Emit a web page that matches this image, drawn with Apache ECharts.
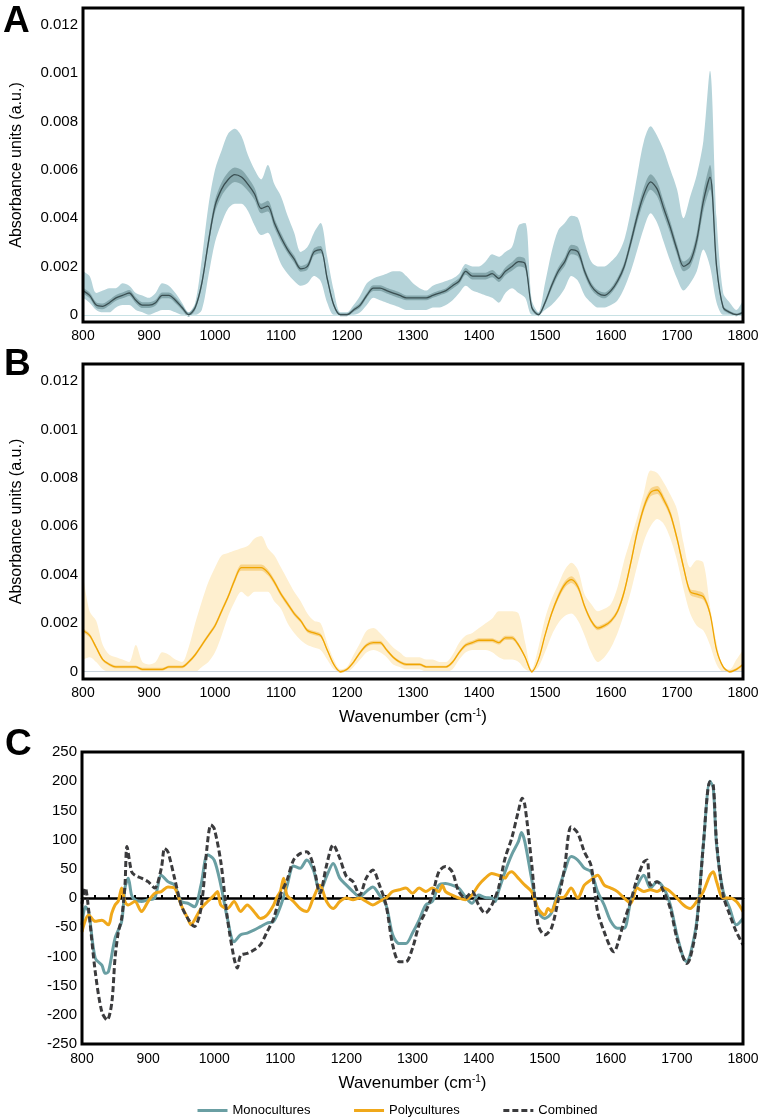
<!DOCTYPE html>
<html>
<head>
<meta charset="utf-8">
<script src="https://cdn.jsdelivr.net/npm/echarts@6.0.0/dist/echarts.min.js"></script>
<style>
html, body { margin: 0; padding: 0; background: #fff; }
#chart { width: 762px; height: 1118px; }
</style>
</head>
<body>
<div id="chart"></div>
<script>
// wavenumber grid for panels A and B (800..1800, step 10)
const wnAB = [];
for (let w = 800; w <= 1800; w += 10) wnAB.push(String(w));

// y tick labels of A/B (the 0.010 tick is printed as 0.001 in the original)
const yTickValsAB = [0, 0.002, 0.004, 0.006, 0.008, 0.010, 0.012];
const yTickLabelsAB = ['0', '0.002', '0.004', '0.006', '0.008', '0.001', '0.012'];

// Panel A - monocultures
const meanA = [
  0.0010, 0.0008, 0.0004, 0.00035, 0.0005, 0.0007, 0.0008, 0.0009, 0.0006, 0.0004,
  0.0004, 0.0005, 0.0008, 0.0008, 0.0006, 0.0003, 0.0000, 0.0003, 0.0013, 0.0030,
  0.0045, 0.0052, 0.0056, 0.0058, 0.0057, 0.0054, 0.0050, 0.0044, 0.0045, 0.0038,
  0.0032, 0.0027, 0.0023, 0.0019, 0.0020, 0.0026, 0.0027, 0.0015, 0.0004, 0.0000,
  0.0000, 0.0002, 0.0004, 0.0008, 0.0011, 0.0011, 0.0010, 0.0009, 0.0008, 0.0007,
  0.0007, 0.0007, 0.0007, 0.0008, 0.0009, 0.0010, 0.0012, 0.0014, 0.0018, 0.0016,
  0.0016, 0.0016, 0.0017, 0.0015, 0.0018, 0.0020, 0.0022, 0.0021, 0.0003, 0.0000,
  0.0005, 0.0012, 0.0018, 0.0022, 0.0027, 0.0026, 0.0018, 0.0012, 0.0009, 0.0008,
  0.0010, 0.0014, 0.0020, 0.0030, 0.0041, 0.0050, 0.0055, 0.0052, 0.0044, 0.0036,
  0.0027, 0.0020, 0.0022, 0.0031, 0.0047, 0.0057, 0.0020, 0.0003, 0.0001, 0.0000,
  0.0001
];
const hiA = [
  0.0018, 0.0016, 0.0009, 0.0010, 0.0011, 0.0011, 0.0013, 0.0012, 0.0009, 0.0008,
  0.0007, 0.0009, 0.0013, 0.0012, 0.0009, 0.0005, 0.0001, 0.0005, 0.0023, 0.0045,
  0.0060, 0.0068, 0.0075, 0.0077, 0.0074, 0.0066, 0.0060, 0.0056, 0.0062, 0.0054,
  0.0049, 0.0041, 0.0034, 0.0026, 0.0028, 0.0034, 0.0038, 0.0024, 0.0010, 0.0001,
  0.0001, 0.0004, 0.0008, 0.0013, 0.0015, 0.0016, 0.0017, 0.0018, 0.0018, 0.0016,
  0.0013, 0.0011, 0.0010, 0.0012, 0.0013, 0.0014, 0.0015, 0.0017, 0.0021, 0.0020,
  0.0020, 0.0022, 0.0025, 0.0024, 0.0026, 0.0028, 0.0037, 0.0038, 0.0006, 0.0001,
  0.0013, 0.0026, 0.0035, 0.0038, 0.0041, 0.0040, 0.0030, 0.0022, 0.0020, 0.0020,
  0.0022, 0.0025, 0.0031, 0.0043, 0.0058, 0.0072, 0.0078, 0.0074, 0.0068, 0.0060,
  0.0052, 0.0040, 0.0049, 0.0058, 0.0072, 0.0101, 0.0040, 0.0009, 0.0005, 0.0002,
  0.0006
];
const loA = [
  0.0007, 0.0005, 0.0002, 0.0001, 0.0001, 0.0003, 0.0004, 0.0004, 0.0002, 0.0001,
  0.0000, 0.0001, 0.0002, 0.0002, 0.0001, 0.0000, 0.0000, 0.0000, 0.0002, 0.0016,
  0.0030, 0.0038, 0.0044, 0.0046, 0.0046, 0.0043, 0.0037, 0.0033, 0.0034, 0.0028,
  0.0021, 0.0017, 0.0014, 0.0012, 0.0013, 0.0016, 0.0014, 0.0005, 0.0000, 0.0000,
  0.0000, 0.0000, 0.0001, 0.0004, 0.0007, 0.0006, 0.0005, 0.0004, 0.0003, 0.0002,
  0.0002, 0.0002, 0.0002, 0.0003, 0.0003, 0.0004, 0.0006, 0.0009, 0.0012, 0.0010,
  0.0009, 0.0008, 0.0007, 0.0005, 0.0009, 0.0011, 0.0009, 0.0007, 0.0000, 0.0000,
  0.0002, 0.0004, 0.0007, 0.0011, 0.0016, 0.0014, 0.0008, 0.0005, 0.0003, 0.0003,
  0.0004, 0.0006, 0.0011, 0.0018, 0.0027, 0.0036, 0.0042, 0.0038, 0.0030, 0.0022,
  0.0015, 0.0010, 0.0013, 0.0018, 0.0027, 0.0020, 0.0005, 0.0000, 0.0000, 0.0000,
  0.0000
];
const semA = [
  0.00012, 0.00012, 0.00012, 0.00012, 0.00012, 0.00012, 0.00012, 0.00012, 0.00012, 0.00012,
  0.00012, 0.00012, 0.00012, 0.00012, 0.00012, 0.00010, 0.00008, 0.00010, 0.00015, 0.00020,
  0.00025, 0.00028, 0.00030, 0.00030, 0.00030, 0.00028, 0.00025, 0.00020, 0.00022, 0.00020,
  0.00018, 0.00015, 0.00015, 0.00012, 0.00014, 0.00015, 0.00015, 0.00012, 0.00008, 0.00006,
  0.00006, 0.00008, 0.00010, 0.00010, 0.00012, 0.00012, 0.00012, 0.00012, 0.00012, 0.00010,
  0.00010, 0.00010, 0.00010, 0.00010, 0.00010, 0.00010, 0.00012, 0.00012, 0.00014, 0.00014,
  0.00014, 0.00014, 0.00015, 0.00014, 0.00016, 0.00018, 0.00020, 0.00020, 0.00008, 0.00006,
  0.00010, 0.00014, 0.00016, 0.00018, 0.00020, 0.00020, 0.00016, 0.00014, 0.00012, 0.00012,
  0.00012, 0.00014, 0.00016, 0.00020, 0.00025, 0.00030, 0.00032, 0.00030, 0.00028, 0.00025,
  0.00022, 0.00020, 0.00022, 0.00030, 0.00040, 0.00050, 0.00020, 0.00008, 0.00006, 0.00006,
  0.00006
];

// Panel B - polycultures
const meanB = [
  0.0017, 0.0015, 0.0010, 0.0005, 0.0003, 0.0002, 0.0002, 0.0002, 0.0002, 0.0001,
  0.0001, 0.0001, 0.0001, 0.0002, 0.0002, 0.0002, 0.0004, 0.0007, 0.0011, 0.0015,
  0.0019, 0.0025, 0.0031, 0.0038, 0.0043, 0.0043, 0.0043, 0.0043, 0.0041, 0.0037,
  0.0032, 0.0028, 0.0024, 0.0021, 0.0017, 0.0016, 0.0015, 0.0009, 0.0003, 0.0000,
  0.0001, 0.0004, 0.0008, 0.0011, 0.0012, 0.0012, 0.0009, 0.0006, 0.0004, 0.0003,
  0.0003, 0.0003, 0.0002, 0.0002, 0.0002, 0.0002, 0.0004, 0.0008, 0.0011, 0.0012,
  0.0013, 0.0013, 0.0013, 0.0012, 0.0014, 0.0014, 0.0011, 0.0006, 0.0000, 0.0005,
  0.0015, 0.0024, 0.0031, 0.0036, 0.0038, 0.0035, 0.0027, 0.0021, 0.0018, 0.0019,
  0.0021, 0.0025, 0.0033, 0.0045, 0.0058, 0.0068, 0.0074, 0.0075, 0.0071, 0.0065,
  0.0055, 0.0043, 0.0033, 0.0032, 0.0031, 0.0024, 0.0009, 0.0002, 0.0000, 0.0001,
  0.0003
];
const hiB = [
  0.0040, 0.0025, 0.0021, 0.0011, 0.0007, 0.0006, 0.0005, 0.0004, 0.0011, 0.0004,
  0.0003, 0.0004, 0.0008, 0.0007, 0.0005, 0.0004, 0.0010, 0.0020, 0.0029, 0.0037,
  0.0043, 0.0048, 0.0049, 0.0050, 0.0051, 0.0052, 0.0055, 0.0056, 0.0051, 0.0048,
  0.0043, 0.0038, 0.0033, 0.0029, 0.0024, 0.0021, 0.0020, 0.0012, 0.0005, 0.0001,
  0.0002, 0.0007, 0.0012, 0.0017, 0.0018, 0.0016, 0.0013, 0.0010, 0.0008, 0.0006,
  0.0006, 0.0006, 0.0005, 0.0005, 0.0004, 0.0004, 0.0007, 0.0012, 0.0015, 0.0016,
  0.0018, 0.0020, 0.0022, 0.0025, 0.0025, 0.0025, 0.0024, 0.0012, 0.0001, 0.0010,
  0.0022, 0.0030, 0.0036, 0.0042, 0.0045, 0.0042, 0.0032, 0.0028, 0.0025, 0.0026,
  0.0028, 0.0035, 0.0046, 0.0055, 0.0064, 0.0074, 0.0083, 0.0082, 0.0078, 0.0073,
  0.0067, 0.0053, 0.0043, 0.0046, 0.0045, 0.0027, 0.0012, 0.0002, 0.0001, 0.0005,
  0.0009
];
const loB = [
  0.0005, 0.0006, 0.0004, 0.0001, 0.0000, 0.0000, 0.0000, 0.0000, 0.0000, 0.0000,
  0.0000, 0.0000, 0.0000, 0.0000, 0.0000, 0.0000, 0.0000, 0.0000, 0.0002, 0.0004,
  0.0008, 0.0015, 0.0023, 0.0029, 0.0033, 0.0031, 0.0033, 0.0033, 0.0033, 0.0029,
  0.0026, 0.0020, 0.0016, 0.0013, 0.0011, 0.0010, 0.0009, 0.0005, 0.0001, 0.0000,
  0.0000, 0.0002, 0.0005, 0.0008, 0.0009, 0.0008, 0.0006, 0.0003, 0.0002, 0.0001,
  0.0001, 0.0001, 0.0000, 0.0000, 0.0000, 0.0000, 0.0001, 0.0005, 0.0008, 0.0009,
  0.0009, 0.0009, 0.0008, 0.0006, 0.0005, 0.0005, 0.0004, 0.0001, 0.0000, 0.0002,
  0.0008, 0.0015, 0.0020, 0.0023, 0.0024, 0.0021, 0.0015, 0.0008, 0.0004, 0.0006,
  0.0010, 0.0016, 0.0024, 0.0033, 0.0044, 0.0054, 0.0060, 0.0063, 0.0061, 0.0055,
  0.0046, 0.0034, 0.0024, 0.0019, 0.0017, 0.0011, 0.0003, 0.0000, 0.0000, 0.0000,
  0.0000
];
const semB = [
  0.00008, 0.00008, 0.00008, 0.00006, 0.00006, 0.00006, 0.00006, 0.00006, 0.00006, 0.00006,
  0.00006, 0.00006, 0.00006, 0.00006, 0.00006, 0.00006, 0.00006, 0.00007, 0.00008, 0.00008,
  0.00009, 0.00010, 0.00010, 0.00012, 0.00013, 0.00013, 0.00013, 0.00013, 0.00012, 0.00011,
  0.00010, 0.00010, 0.00009, 0.00008, 0.00008, 0.00008, 0.00008, 0.00006, 0.00005, 0.00005,
  0.00005, 0.00006, 0.00007, 0.00008, 0.00008, 0.00008, 0.00007, 0.00006, 0.00006, 0.00006,
  0.00006, 0.00006, 0.00005, 0.00005, 0.00005, 0.00005, 0.00006, 0.00007, 0.00008, 0.00008,
  0.00008, 0.00008, 0.00008, 0.00008, 0.00009, 0.00009, 0.00008, 0.00006, 0.00005, 0.00006,
  0.00008, 0.00010, 0.00012, 0.00013, 0.00014, 0.00013, 0.00010, 0.00009, 0.00009, 0.00009,
  0.00009, 0.00010, 0.00012, 0.00014, 0.00015, 0.00016, 0.00016, 0.00016, 0.00015, 0.00014,
  0.00013, 0.00012, 0.00012, 0.00014, 0.00014, 0.00010, 0.00006, 0.00005, 0.00005, 0.00005,
  0.00005
];

// Panel C - [wavenumber, value]
const monoPts = [
  [800,-46],[805,-15],[810,-23],[820,-103],[830,-115],[835,-129],[840,-126],[850,-69],[860,-40],
  [865,17],[870,34],[875,5],[880,-3],[890,-6],[900,-3],[910,0],[920,39],[930,28],[940,22],
  [950,-6],[960,-9],[970,-15],[980,22],[990,74],[1000,65],[1010,22],[1020,-35],[1030,-75],
  [1040,-63],[1050,-60],[1060,-55],[1070,-49],[1080,-43],[1090,-40],[1100,-15],[1110,20],
  [1120,55],[1130,51],[1140,65],[1150,48],[1160,11],[1170,37],[1180,59],[1190,34],[1200,22],
  [1210,11],[1220,2],[1230,11],[1240,19],[1250,5],[1260,-12],[1270,-63],[1280,-78],[1290,-78],
  [1300,-60],[1310,-38],[1320,-12],[1330,-6],[1340,22],[1350,25],[1360,22],[1370,17],[1380,2],
  [1390,-9],[1400,5],[1410,1],[1420,0],[1425,-6],[1430,11],[1440,45],[1450,74],[1460,96],
  [1465,112],[1470,96],[1480,34],[1490,-23],[1500,-35],[1510,-26],[1520,11],[1530,45],[1540,71],
  [1550,65],[1560,51],[1570,45],[1580,11],[1590,-12],[1600,-40],[1610,-52],[1620,-52],[1630,-6],
  [1640,22],[1650,39],[1660,17],[1670,28],[1680,17],[1690,-12],[1700,-63],[1710,-103],[1715,-109],
  [1720,-98],[1730,-40],[1740,91],[1750,200],[1755,188],[1760,91],[1770,11],[1780,-18],[1790,-46],
  [1800,-35]
];
const polyPts = [
  [800,-58],[810,-29],[820,-40],[830,-38],[840,-46],[845,-26],[850,-12],[855,-5],[860,17],[865,-6],
  [870,-12],[880,-6],[890,-23],[900,-6],[910,8],[920,11],[930,19],[940,17],[950,-12],[960,-35],
  [965,-46],[970,-38],[980,-18],[990,-6],[1000,5],[1005,11],[1010,-12],[1020,-18],[1030,-6],
  [1040,-23],[1050,-12],[1060,-23],[1070,-35],[1080,-29],[1090,-12],[1095,2],[1100,11],[1105,34],
  [1110,5],[1120,-6],[1130,-18],[1140,-23],[1150,0],[1160,22],[1170,-6],[1180,-18],[1190,-6],
  [1200,0],[1210,-3],[1220,0],[1230,-6],[1240,-12],[1250,-6],[1260,0],[1270,11],[1280,14],
  [1290,17],[1300,8],[1310,17],[1320,11],[1330,17],[1340,11],[1345,22],[1350,11],[1360,5],
  [1370,0],[1380,-3],[1390,5],[1400,22],[1410,34],[1420,42],[1430,39],[1440,34],[1445,42],
  [1450,45],[1460,34],[1470,22],[1480,11],[1490,-18],[1500,-29],[1505,-18],[1510,-23],[1520,0],
  [1530,2],[1540,17],[1550,0],[1560,22],[1570,31],[1580,39],[1590,22],[1600,17],[1610,11],
  [1620,0],[1630,-9],[1640,17],[1650,11],[1660,14],[1670,11],[1680,17],[1690,11],[1700,0],
  [1710,-12],[1720,-18],[1730,-6],[1740,11],[1750,39],[1755,45],[1760,28],[1770,0],[1780,0],
  [1790,-6],[1800,-23]
];
const combPts = [
  [800,-10],[805,17],[810,-20],[820,-126],[830,-195],[838,-209],[845,-180],[850,-103],[855,-58],
  [860,-35],[865,22],[868,88],[875,45],[880,39],[890,34],[900,28],[910,17],[920,51],[925,85],
  [930,79],[940,34],[950,-12],[960,-35],[970,-49],[980,-18],[990,96],[995,125],[1000,119],
  [1010,62],[1020,-35],[1030,-103],[1035,-120],[1040,-98],[1050,-95],[1060,-89],[1070,-80],
  [1080,-58],[1090,-35],[1100,5],[1110,30],[1120,65],[1130,76],[1140,79],[1150,56],[1160,8],
  [1170,56],[1180,91],[1190,68],[1200,37],[1210,28],[1220,5],[1230,34],[1240,48],[1250,22],
  [1260,-12],[1270,-80],[1280,-109],[1290,-109],[1300,-86],[1310,-46],[1320,-23],[1330,5],
  [1340,45],[1350,54],[1360,45],[1370,11],[1380,0],[1390,11],[1400,-12],[1410,-26],[1420,-12],
  [1430,17],[1440,68],[1450,102],[1460,148],[1466,171],[1470,159],[1480,62],[1490,-46],[1500,-63],
  [1510,-52],[1520,-6],[1530,51],[1540,122],[1550,111],[1560,79],[1570,56],[1580,-23],[1590,-58],
  [1600,-86],[1605,-92],[1610,-80],[1620,-40],[1630,-6],[1640,34],[1650,62],[1655,65],[1660,22],
  [1670,28],[1680,11],[1690,-18],[1700,-69],[1710,-103],[1715,-112],[1720,-103],[1730,-46],
  [1740,91],[1750,199],[1755,193],[1760,96],[1770,5],[1780,-29],[1790,-58],[1800,-80]
];

const FONT = '"Liberation Sans", Arial, Helvetica, sans-serif';
const wnName = '{a|Wavenumber (cm}{s|-1}{a|)}';
const wnRich = {
    a: { fontSize: 17, fontFamily: FONT, color: '#000' },
    s: { fontSize: 10, fontFamily: FONT, color: '#000', padding: [0, 0, 9, 0] }
};

function yLabelAB(v) {
    let best = 0;
    yTickValsAB.forEach((t, i) => { if (Math.abs(t - v) < Math.abs(yTickValsAB[best] - v)) best = i; });
    return yTickLabelsAB[best];
}

function catXAxis(gridIndex, withName) {
    const ax = {
        type: 'category', gridIndex, data: wnAB, boundaryGap: false,
        axisLine: { show: false }, axisTick: { show: false }, splitLine: { show: false },
        axisLabel: { interval: 9, fontSize: 14, color: '#000', margin: 7, fontFamily: FONT }
    };
    if (withName) {
        ax.name = wnName;
        ax.nameLocation = 'middle';
        ax.nameGap = 29;
        ax.nameTextStyle = { rich: wnRich };
    }
    return ax;
}

function absYAxis(gridIndex) {
    return {
        type: 'value', gridIndex, min: -0.0003, max: 0.0127,
        axisLine: { show: false }, axisTick: { show: false }, splitLine: { show: false },
        axisLabel: { customValues: yTickValsAB, formatter: yLabelAB, fontSize: 15, color: '#000', margin: 5, fontFamily: FONT },
        name: 'Absorbance units (a.u.)', nameLocation: 'middle', nameGap: 58,
        nameTextStyle: { fontSize: 16, color: '#000', fontFamily: FONT }
    };
}

// band = invisible lower edge + stacked difference filled
function band(idx, lower, upper, color, stackName) {
    const common = { type: 'line', xAxisIndex: idx, yAxisIndex: idx, symbol: 'none', smooth: 0.3, silent: true,
        stack: stackName, stackStrategy: 'all', lineStyle: { width: 0, opacity: 0 } };
    return [
        Object.assign({}, common, { data: lower }),
        Object.assign({}, common, { data: upper.map((v, i) => v - lower[i]), areaStyle: { color, opacity: 1 } })
    ];
}

function meanLine(idx, data, color, zeroColor) {
    return {
        type: 'line', xAxisIndex: idx, yAxisIndex: idx, data, symbol: 'none', smooth: 0.3, silent: true,
        lineStyle: { color, width: 1.3 }, z: 5,
        markLine: { silent: true, symbol: 'none', label: { show: false },
            lineStyle: { color: zeroColor, width: 1.2, type: 'solid' }, data: [{ yAxis: 0 }] }
    };
}

const chart = echarts.init(document.getElementById('chart'), null, { renderer: 'canvas' });

const option = {
    animation: false,
    backgroundColor: '#fff',
    textStyle: { fontFamily: FONT },
    grid: [
        { left: 83, top: 8, width: 660, height: 314, show: true, borderColor: '#000', borderWidth: 3, z: 10 },
        { left: 83, top: 364, width: 660, height: 315, show: true, borderColor: '#000', borderWidth: 3, z: 10 },
        { left: 82, top: 752, width: 661, height: 292, show: true, borderColor: '#000', borderWidth: 3, z: 10 }
    ],
    xAxis: [
        catXAxis(0, false),
        catXAxis(1, true),
        {
            type: 'value', gridIndex: 2, min: 800, max: 1800, interval: 100, position: 'bottom',
            axisLine: { show: false, onZero: false }, axisTick: { show: false }, splitLine: { show: false },
            axisLabel: { fontSize: 14, color: '#000', margin: 8, fontFamily: FONT, formatter: v => String(v) },
            name: wnName, nameLocation: 'middle', nameGap: 30, nameTextStyle: { rich: wnRich }
        },
        {
            type: 'value', gridIndex: 2, min: 800, max: 1800, interval: 20, position: 'top',
            axisLine: { show: true, onZero: true, lineStyle: { color: '#000', width: 2.5 } },
            axisTick: { show: true, length: 3, lineStyle: { color: '#000', width: 2 } },
            axisLabel: { show: false }, splitLine: { show: false }, z: 4
        }
    ],
    yAxis: [
        absYAxis(0),
        absYAxis(1),
        {
            type: 'value', gridIndex: 2, min: -250, max: 250, interval: 50,
            axisLine: { show: false }, axisTick: { show: false }, splitLine: { show: false },
            axisLabel: { fontSize: 15, color: '#000', margin: 5, fontFamily: FONT }
        }
    ],
    legend: {
        top: 1099, left: 191, itemWidth: 30, itemHeight: 10, itemGap: 42,
        itemStyle: { opacity: 0 },
        lineStyle: { width: 3 },
        textStyle: { fontSize: 13, color: '#000', fontFamily: FONT },
        data: ['Monocultures', 'Polycultures', 'Combined']
    },
    graphic: [
        { type: 'text', left: 3, top: 3, style: { text: 'A', font: 'bold 37px ' + FONT, fill: '#000' } },
        { type: 'text', left: 4, top: 346, style: { text: 'B', font: 'bold 37px ' + FONT, fill: '#000' } },
        { type: 'text', left: 5, top: 726, style: { text: 'C', font: 'bold 37px ' + FONT, fill: '#000' } }
    ],
    series: [
        ...band(0, loA, hiA, '#b5d3d9', 'outerA'),
        ...band(0, meanA.map((v, i) => v - semA[i]), meanA.map((v, i) => v + semA[i]), '#86a8ad', 'innerA'),
        meanLine(0, meanA, '#3a4f52', '#c8e1e4'),
        ...band(1, loB, hiB, '#feefcf', 'outerB'),
        ...band(1, meanB.map((v, i) => v - semB[i]), meanB.map((v, i) => v + semB[i]), '#f8d48a', 'innerB'),
        meanLine(1, meanB, '#f0a500', '#c9d3dc'),
        {
            name: 'Monocultures', type: 'line', xAxisIndex: 2, yAxisIndex: 2, data: monoPts,
            symbol: 'none', smooth: 0.3, lineStyle: { color: '#6a9fa3', width: 3 }, itemStyle: { color: '#6a9fa3' }, z: 6
        },
        {
            name: 'Polycultures', type: 'line', xAxisIndex: 2, yAxisIndex: 2, data: polyPts,
            symbol: 'none', smooth: 0.3, lineStyle: { color: '#f0a81a', width: 3 }, itemStyle: { color: '#f0a81a' }, z: 6
        },
        {
            name: 'Combined', type: 'line', xAxisIndex: 2, yAxisIndex: 2, data: combPts,
            symbol: 'none', smooth: 0.3, lineStyle: { color: '#3b3b3d', width: 3, type: [6, 3] }, itemStyle: { color: '#3b3b3d' }, z: 7
        }
    ]
};

chart.setOption(option);
</script>
</body>
</html>
